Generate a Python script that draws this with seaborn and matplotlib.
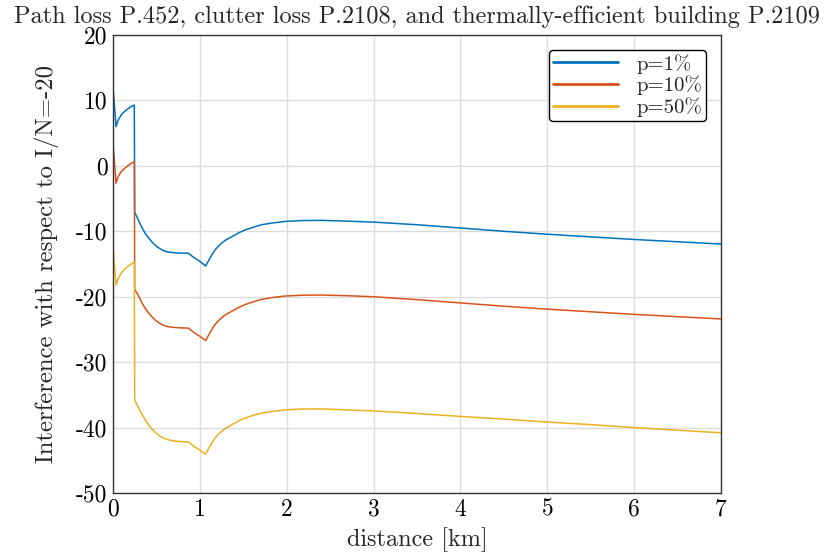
import matplotlib
matplotlib.use("Agg")
import matplotlib.pyplot as plt
import seaborn as sns
import pandas as pd

# distance [km]
dist = [0.003, 0.035, 0.06, 0.10, 0.15, 0.20, 0.245, 0.2501,
        0.28, 0.31, 0.34, 0.37, 0.40, 0.43, 0.46, 0.50, 0.54, 0.58, 0.63, 0.70, 0.78, 0.867,
        0.93, 1.00, 1.067,
        1.12, 1.174, 1.23, 1.29, 1.35, 1.405, 1.46, 1.52, 1.61, 1.71, 1.84, 1.98, 2.17, 2.40,
        2.70, 3.00, 3.50, 4.00, 4.50, 5.00, 5.50, 6.00, 6.50, 7.00]

p1 = [11.6, 6.0, 7.0, 7.9, 8.5, 9.0, 9.3, -7.1,
      -7.95, -8.8, -9.6, -10.3, -10.85, -11.35, -11.8, -12.3, -12.65, -12.95, -13.15, -13.27, -13.33, -13.35,
      -14.0, -14.6, -15.3,
      -14.0, -12.85, -12.05, -11.4, -10.95, -10.55, -10.15, -9.8, -9.4, -9.0, -8.72, -8.5, -8.36, -8.33,
      -8.45, -8.6, -9.0, -9.5, -10.0, -10.45, -10.85, -11.25, -11.6, -11.95]

p10 = [2.95, -2.65, -1.6, -0.8, -0.2, 0.3, 0.66, -18.9,
       -19.55, -20.3, -21.1, -21.75, -22.3, -22.8, -23.25, -23.72, -24.07, -24.37, -24.57, -24.69, -24.76, -24.8,
       -25.45, -26.05, -26.7,
       -25.4, -24.25, -23.45, -22.8, -22.35, -21.95, -21.55, -21.2, -20.8, -20.4, -20.12, -19.9, -19.77, -19.74,
       -19.85, -20.0, -20.45, -20.95, -21.45, -21.9, -22.3, -22.7, -23.05, -23.4]

p50 = [-12.7, -18.2, -17.2, -16.3, -15.6, -15.1, -14.7, -35.8,
       -36.6, -37.4, -38.1, -38.8, -39.4, -39.95, -40.4, -40.9, -41.3, -41.6, -41.85, -42.05, -42.15, -42.2,
       -42.85, -43.45, -44.05,
       -42.75, -41.6, -40.8, -40.15, -39.7, -39.3, -38.9, -38.55, -38.15, -37.8, -37.52, -37.3, -37.17, -37.15,
       -37.3, -37.45, -37.85, -38.3, -38.7, -39.15, -39.55, -40.0, -40.4, -40.8]

labels = ["p=1%", "p=10%", "p=50%"]
colors = ["#0072BD", "#D95319", "#EDB120"]

df = pd.concat([
    pd.DataFrame({"distance": dist, "value": v, "series": lab})
    for v, lab in zip([p1, p10, p50], labels)
], ignore_index=True)

sns.set_theme(style="whitegrid")
plt.rcParams["font.family"] = ["cmr10", "DejaVu Serif"]
plt.rcParams["axes.unicode_minus"] = False
plt.rcParams["mathtext.fontset"] = "cm"

fig = plt.figure(figsize=(8.26, 5.58), dpi=100)
ax = fig.add_axes([113/826, 1-493/558, (721-113)/826, (493-35)/558])

sns.lineplot(data=df, x="distance", y="value", hue="series", palette=colors,
             hue_order=labels, ax=ax, linewidth=1.1, sort=False, estimator=None)

ax.set_xlim(0, 7)
ax.set_ylim(-50, 20)
ax.set_xticks(range(0, 8))
ax.set_yticks(range(-50, 21, 10))
ax.grid(True, color="#dcdcdc", linewidth=1.0)
for s in ax.spines.values():
    s.set_color("#333333")
    s.set_linewidth(1.0)
ax.tick_params(axis="both", labelsize=17, length=0, pad=4, colors="black")
ax.set_xlabel("distance [km]", fontsize=17.5, labelpad=5)
ax.set_ylabel("Interference with respect to I/N=-20", fontsize=17.8, labelpad=12)
ax.set_title("Path loss P.452, clutter loss P.2108, and thermally-efficient building P.2109",
             fontsize=17.5, pad=9)

leg = ax.legend(loc="upper right", bbox_to_anchor=(0.976, 0.968), fontsize=15,
                frameon=True, fancybox=True, edgecolor="black", framealpha=1,
                handlelength=3.1, labelspacing=0.1, borderpad=0.2, handletextpad=0.9,
                borderaxespad=0)
leg.get_frame().set_linewidth(1.0)
for line in leg.get_lines():
    line.set_linewidth(2.0)

fig.savefig("out.png", dpi=100)
